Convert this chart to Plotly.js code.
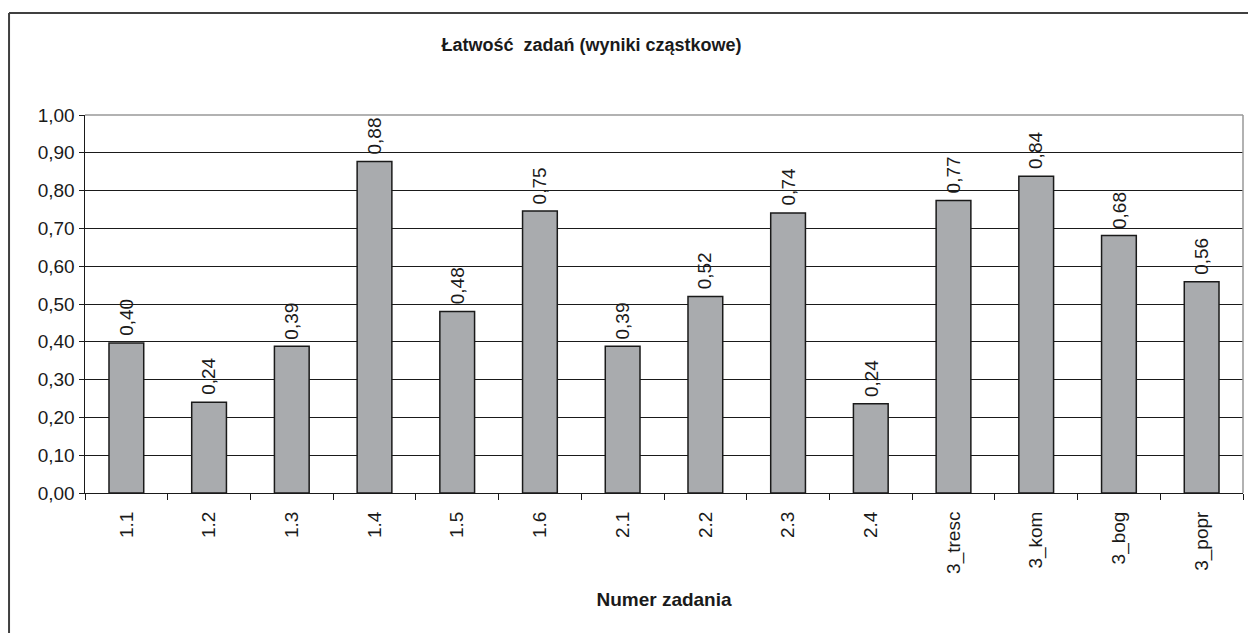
<!DOCTYPE html>
<html>
<head>
<meta charset="utf-8">
<script src="https://cdn.plot.ly/plotly-3.0.1.min.js"></script>
<style>
html,body{margin:0;padding:0;background:#fff;}
#chart{width:1248px;height:633px;}
</style>
</head>
<body>
<div id="chart"></div>
<script>
const categories = ["1.1","1.2","1.3","1.4","1.5","1.6","2.1","2.2","2.3","2.4","3_tresc","3_kom","3_bog","3_popr"];
const values = [0.397, 0.24, 0.388, 0.877, 0.48, 0.746, 0.388, 0.52, 0.741, 0.236, 0.774, 0.838, 0.681, 0.559];
const yTicks = [0, 0.1, 0.2, 0.3, 0.4, 0.5, 0.6, 0.7, 0.8, 0.9, 1.0];

const FONT = "Liberation Sans, Arial, sans-serif";

const trace = {
  type: "bar",
  x: categories,
  y: values,
  marker: {color: "#a9abae", line: {color: "#1a1a1a", width: 1.5}},
  cliponaxis: false,
  hoverinfo: "x+y"
};

// category axis positions are indices; use index so "1.1" is not read as a number
const labelAnnotations = categories.map((c, i) => ({
  x: i, y: values[i], xref: "x", yref: "y",
  text: values[i].toFixed(2).replace(".", ","),
  showarrow: false,
  textangle: -90,
  xanchor: "center", yanchor: "bottom",
  yshift: 5,
  font: {family: FONT, size: 19, color: "#1a1a1a"}
}));

const layout = {
  width: 1248, height: 633,
  margin: {l: 85, r: 5, t: 115, b: 140},
  paper_bgcolor: "#ffffff",
  plot_bgcolor: "#ffffff",
  separators: ",.",
  bargap: 0.58,
  showlegend: false,
  font: {family: FONT, color: "#1a1a1a"},
  title: {
    text: "<b>Łatwość\u00a0 zadań (wyniki cząstkowe)</b>",
    font: {family: FONT, size: 18, color: "#1a1a1a"},
    x: 0.474, xanchor: "center", xref: "container",
    y: 0.929, yanchor: "middle", yref: "container"
  },
  xaxis: {
    type: "category",
    tickson: "boundaries",
    ticks: "outside", ticklen: 6, tickcolor: "#1a1a1a", tickwidth: 1,
    tickangle: -90,
    ticklabelstandoff: 10,
    tickfont: {family: FONT, size: 19, color: "#1a1a1a"},
    showline: true, linecolor: "#1a1a1a", linewidth: 1,
    showgrid: false,
    title: {text: "<b>Numer zadania</b>", font: {family: FONT, size: 19, color: "#1a1a1a"}, standoff: 19},
    automargin: false
  },
  yaxis: {
    range: [0, 1.0],
    tickvals: yTicks,
    tickformat: ".2f",
    ticks: "outside", ticklen: 5, tickcolor: "#1a1a1a", tickwidth: 1,
    tickfont: {family: FONT, size: 19, color: "#1a1a1a"},
    showline: true, linecolor: "#1a1a1a", linewidth: 1.5,
    showgrid: true, gridcolor: "#1a1a1a", gridwidth: 1,
    zeroline: false,
    automargin: false
  },
  annotations: labelAnnotations,
  shapes: [
    {type: "line", xref: "paper", yref: "paper", x0: 0, x1: 1, y0: 1, y1: 1, line: {color: "#999999", width: 1.5}},
    {type: "line", xref: "paper", yref: "paper", x0: 1, x1: 1, y0: 0, y1: 1, line: {color: "#999999", width: 1.5}},
    {type: "line", xref: "paper", yref: "paper", x0: -0.0656, x1: -0.0656, y0: -0.5, y1: 1.2698, line: {color: "#404040", width: 2}},
    {type: "line", xref: "paper", yref: "paper", x0: -0.0656, x1: 1.1, y0: 1.2698, y1: 1.2698, line: {color: "#404040", width: 2}}
  ]
};

Plotly.newPlot("chart", [trace], layout, {displayModeBar: false, staticPlot: true});
</script>
</body>
</html>
